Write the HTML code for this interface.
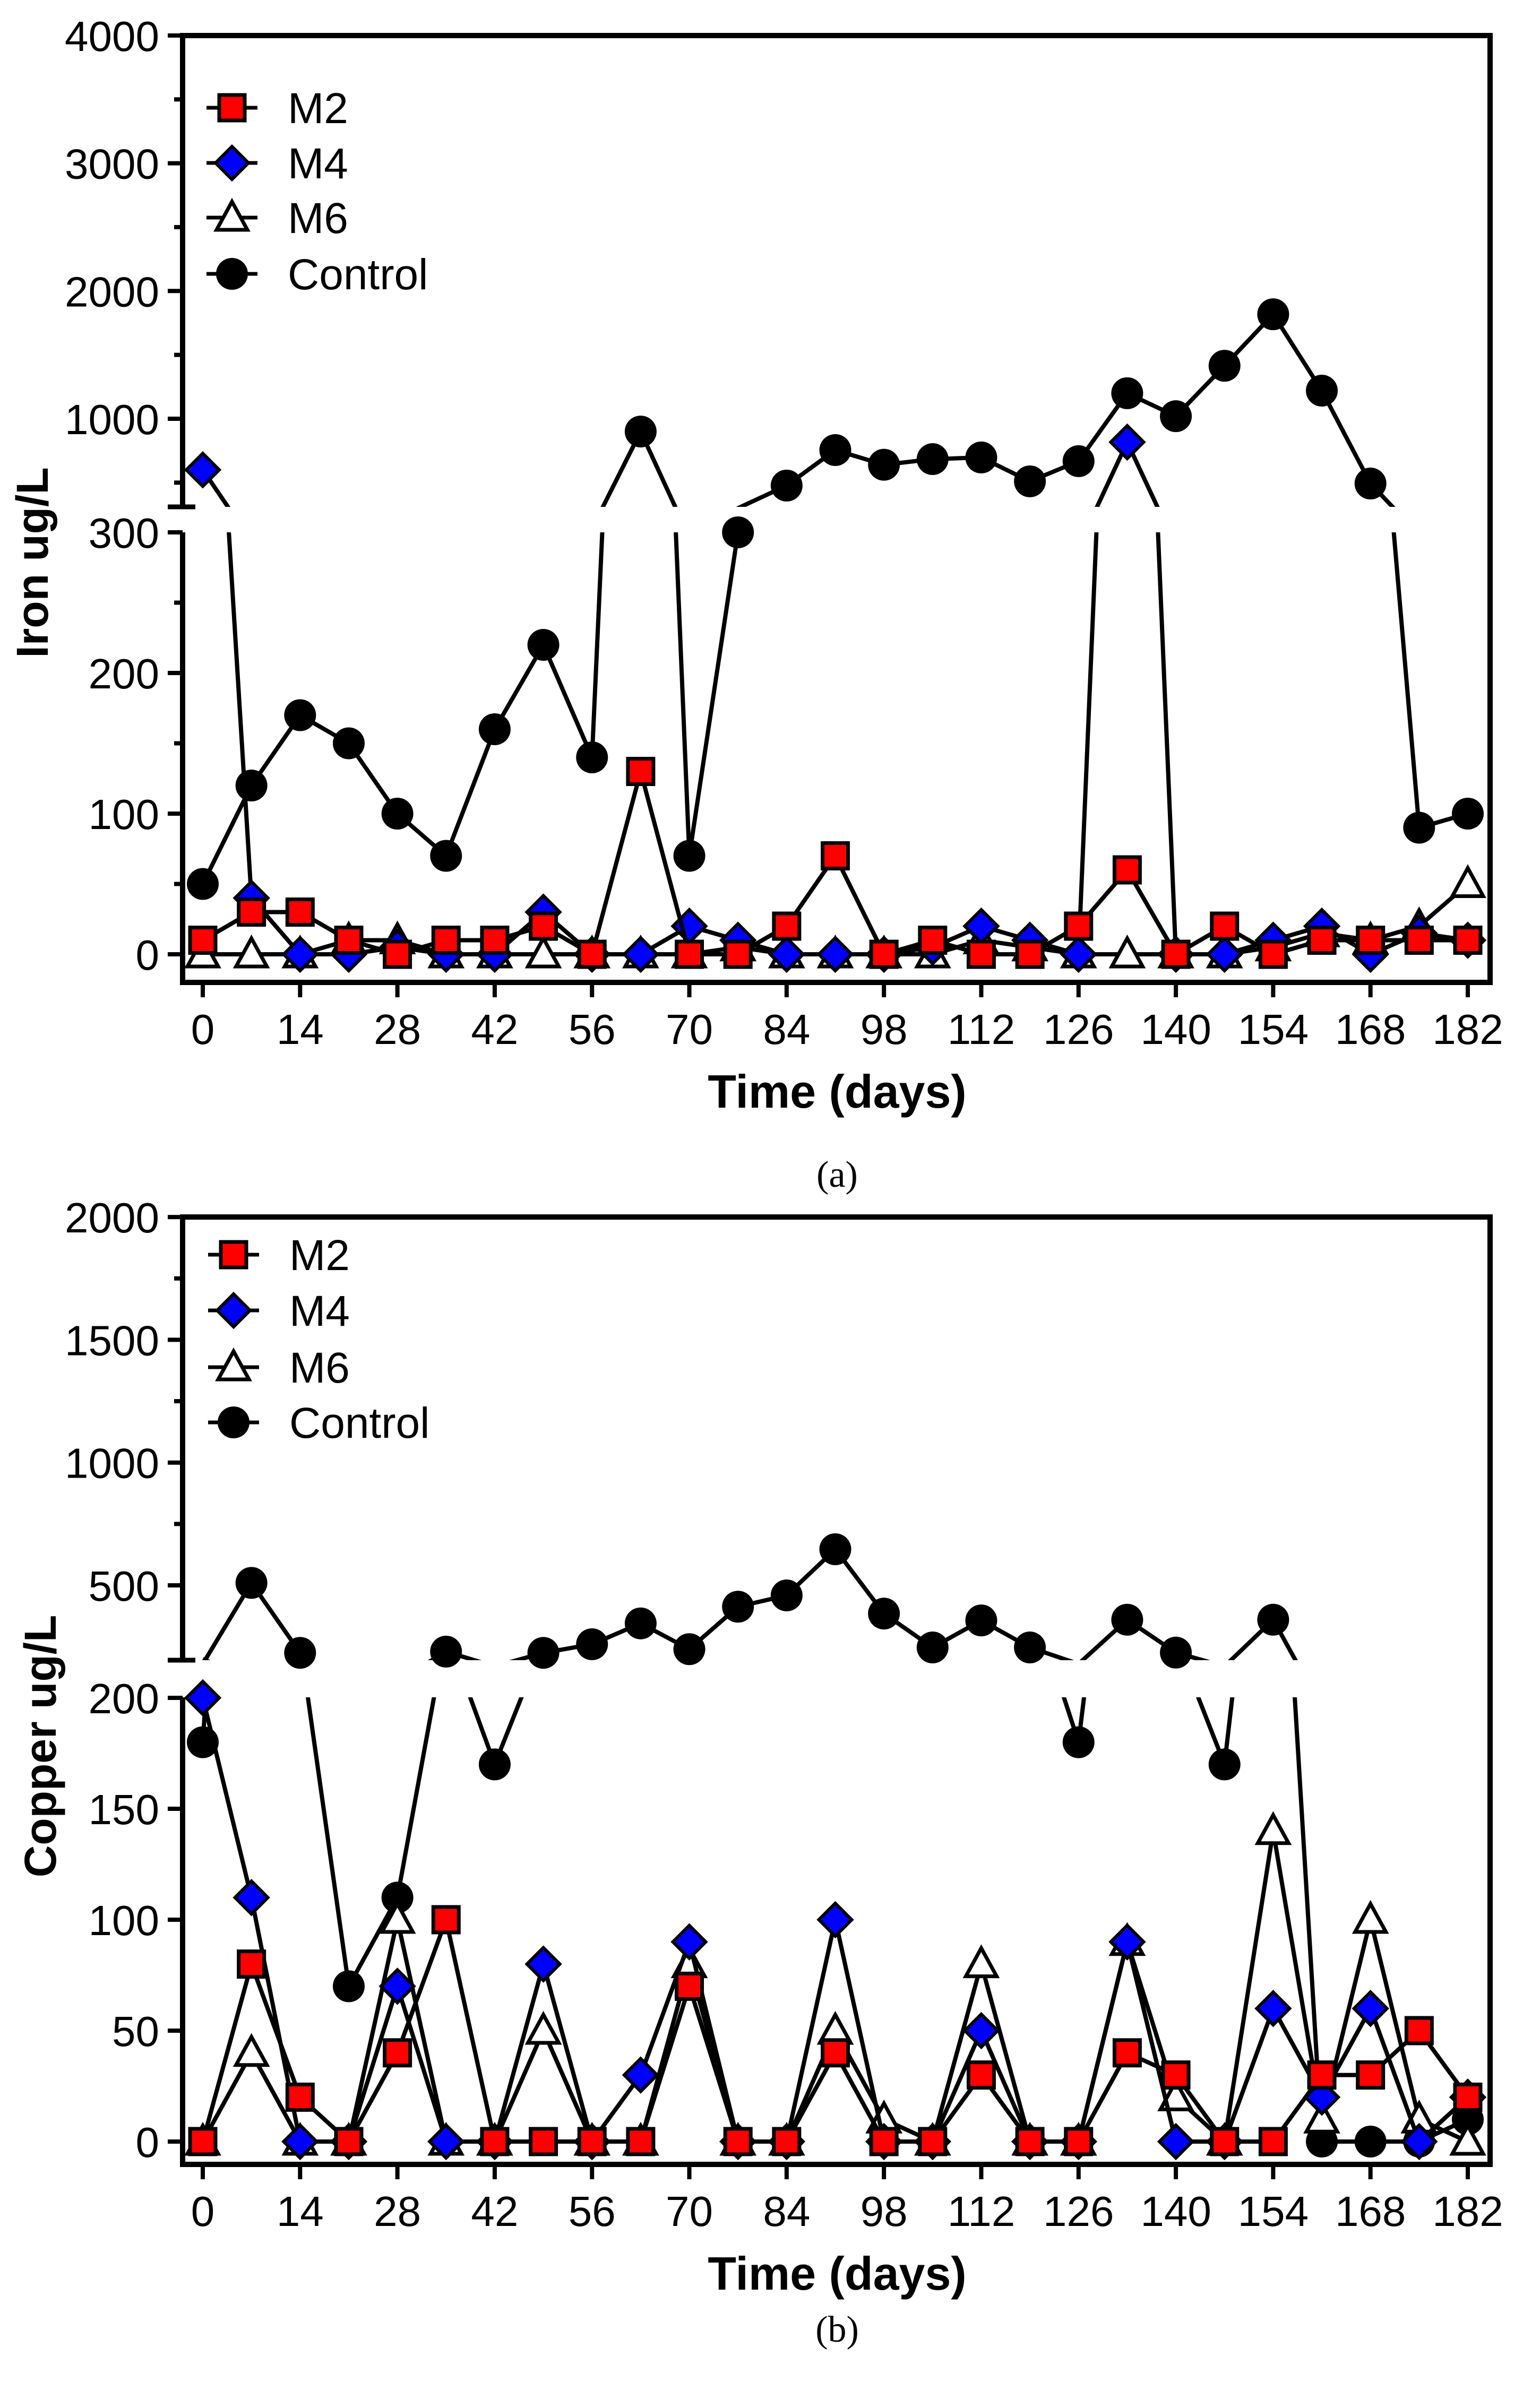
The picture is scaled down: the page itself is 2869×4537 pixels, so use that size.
<!DOCTYPE html>
<html><head><meta charset="utf-8"><style>
html,body{margin:0;padding:0;background:#fff;}
svg{display:block;}
text{font-family:"Liberation Sans",Arial,sans-serif;}
</style></head><body>
<svg id="fig" width="2869" height="4537" viewBox="0 0 2869 4537" xmlns="http://www.w3.org/2000/svg">
<rect width="2869" height="4537" fill="#fff"/>
<g id="panelA"></g>
<g id="panelB"></g>
</svg>
<script>
const days = [0,7,14,21,28,35,42,49,56,63,70,77,84,91,98,105,112,119,126,133,140,147,154,161,168,175,182];
const xTicks = [0,14,28,42,56,70,84,98,112,126,140,154,168,182];

const ironM2 = [10,30,30,10,0,10,10,20,0,130,0,0,20,70,0,10,0,0,20,60,0,20,0,10,10,10,10];
const ironM4 = [600,40,0,0,5,0,0,30,0,0,20,10,0,0,0,5,20,10,0,817,0,0,10,20,0,15,10];
const ironM6 = [0,0,0,10,10,0,0,0,0,0,0,5,0,0,0,0,10,5,0,0,0,0,5,15,10,20,50];
const ironControl = [50,120,170,150,100,70,160,220,140,900,70,300,477,755,640,684,697,510,668,1200,1020,1415,1818,1220,493,90,100];
const ironUpperTicks = [1000,2000,3000,4000];
const ironLowerTicks = [0,100,200,300];

const copperM2 = [0,80,20,0,40,100,0,0,0,0,70,0,0,40,0,0,30,0,0,40,30,0,0,30,30,50,20];
const copperM4 = [200,110,0,0,70,0,0,80,0,30,90,0,0,100,0,0,50,0,0,90,0,0,60,20,60,0,20];
const copperM6 = [0,40,0,0,100,0,0,50,0,0,80,0,0,50,10,0,80,0,0,90,20,0,140,10,100,10,0];
const copperControl = [180,510,225,70,110,230,170,225,260,345,240,413,459,647,385,247,357,247,180,360,226,170,360,0,0,0,10];
const copperUpperTicks = [500,1000,1500,2000];
const copperLowerTicks = [0,50,100,150,200];

const NS = "http://www.w3.org/2000/svg";
function mk(parent, tag, attrs){
  const e = document.createElementNS(NS, tag);
  for (const k in attrs) e.setAttribute(k, attrs[k]);
  parent.appendChild(e);
  return e;
}

function buildPanel(g, cfg){
  const L = 344, R = 2807;
  const xs = d => 382 + d*(2765-382)/182;
  const yU = v => cfg.uY0 - (v - cfg.uV0)*cfg.uK;
  const yL = v => cfg.lY0 - v*cfg.lK;
  const isUp = v => v > cfg.thr;
  const yOf = v => isUp(v) ? yU(v) : yL(v);

  const defs = mk(g,'defs',{});
  const cu = mk(defs,'clipPath',{id:cfg.id+'cu'});
  mk(cu,'rect',{x:L,y:cfg.top,width:R-L,height:cfg.breakU-cfg.top});
  const cl = mk(defs,'clipPath',{id:cfg.id+'cl'});
  mk(cl,'rect',{x:L,y:cfg.breakL,width:R-L,height:cfg.bottom-cfg.breakL});

  const ax = mk(g,'g',{stroke:'#000','stroke-width':10,fill:'none'});
  
  
  mk(ax,'line',{x1:L-5,y1:cfg.top,x2:R+5,y2:cfg.top});
  mk(ax,'line',{x1:R,y1:cfg.top,x2:R,y2:cfg.bottom+5});
  mk(ax,'line',{x1:L-5,y1:cfg.bottom,x2:R+5,y2:cfg.bottom});
  mk(ax,'line',{x1:L,y1:cfg.top,x2:L,y2:cfg.breakU});
  mk(ax,'line',{x1:L,y1:cfg.breakL,x2:L,y2:cfg.bottom});
  mk(ax,'line',{x1:L-28,y1:cfg.breakU,x2:L+24,y2:cfg.breakU,'stroke-width':9});
  const tk = mk(g,'g',{stroke:'#000','stroke-width':8});
  const lab = mk(g,'g',{'font-size':80,'text-anchor':'end',fill:'#000'});
  
  
  cfg.upTicks.forEach(v=>{
    const y = yU(v);
    mk(tk,'line',{x1:L-28,y1:y,x2:L,y2:y});
    const t = mk(lab,'text',{x:300,y:y+29}); t.textContent = v;
  });
  cfg.upMinor.forEach(v=>{ const y=yU(v); mk(tk,'line',{x1:L-16,y1:y,x2:L,y2:y}); });
  cfg.lowTicks.forEach(v=>{
    const y = yL(v);
    mk(tk,'line',{x1:L-28,y1:y,x2:L,y2:y});
    const t = mk(lab,'text',{x:300,y:y+29}); t.textContent = v;
  });
  cfg.lowMinor.forEach(v=>{ const y=yL(v); mk(tk,'line',{x1:L-16,y1:y,x2:L,y2:y}); });
  const xl = mk(g,'g',{'font-size':80,'text-anchor':'middle',fill:'#000'});
  
  
  xTicks.forEach(d=>{
    const x = xs(d);
    mk(tk,'line',{x1:x,y1:cfg.bottom,x2:x,y2:cfg.bottom+28});
    const t = mk(xl,'text',{x:x,y:cfg.bottom+116}); t.textContent = d;
  });
  const xt = mk(g,'text',{x:1577,y:cfg.bottom+236,'font-size':88,'font-weight':'bold','text-anchor':'middle'});
  xt.textContent = 'Time (days)';
  
  
  const yt = mk(g,'text',{x:0,y:0,'font-size':84,'font-weight':'bold','text-anchor':'middle',transform:`translate(${cfg.ytX},${cfg.ytY}) rotate(-90)`});
  yt.textContent = cfg.ytitle;
  
  
  const cap = mk(g,'text',{x:1577,y:cfg.capY,'text-anchor':'middle',style:'font-family:"Liberation Serif",serif;font-size:70px'});
  cap.textContent = cfg.cap;
  
  

  const series = [
    {name:'control', vals:cfg.control, m:'circle'},
    {name:'m6', vals:cfg.m6, m:'tri'},
    {name:'m4', vals:cfg.m4, m:'diamond'},
    {name:'m2', vals:cfg.m2, m:'square'}
  ];
  function marker(par, type, x, y){
    let e;
    if (type==='circle') e = mk(par,'circle',{cx:x,cy:y,r:30,fill:'#000'});
    else if (type==='square') e = mk(par,'rect',{x:x-24,y:y-24,width:48,height:48,fill:'#f00',stroke:'#000','stroke-width':7});
    else if (type==='diamond') e = mk(par,'polygon',{points:`${x},${y-31} ${x+31},${y} ${x},${y+31} ${x-31},${y}`,fill:'#00f',stroke:'#000','stroke-width':6});
    else e = mk(par,'polygon',{points:`${x},${y-30} ${x+29},${y+23} ${x-29},${y+23}`,fill:'#fff',stroke:'#000','stroke-width':7});
    return e;
  }
  series.forEach(s=>{
    const sg = mk(g,'g',{});
    
    
    ['u','l'].forEach(seg=>{
      const yf = seg==='u' ? yU : yL;
      const pts = days.map((d,i)=>xs(d)+','+yf(s.vals[i])).join(' ');
      mk(sg,'polyline',{points:pts,fill:'none',stroke:'#000','stroke-width':8,'stroke-linejoin':'round','clip-path':`url(#${cfg.id}c${seg})`});
    });
    days.forEach((d,i)=>{
      const m = marker(sg, s.m, xs(d), yOf(s.vals[i]));
      
      
    });
  });
  const lg = mk(g,'g',{});
  
  
  const ents = [['M2','square'],['M4','diamond'],['M6','tri'],['Control','circle']];
  ents.forEach((e,i)=>{
    const y = cfg.legY[i];
    const eg = mk(lg,'g',{});
    
    
    mk(eg,'line',{x1:cfg.legX-48,y1:y,x2:cfg.legX+48,y2:y,stroke:'#000','stroke-width':7});
    marker(eg, e[1], cfg.legX, y);
    const t = mk(eg,'text',{x:cfg.legX+105,y:y+29,'font-size':82}); t.textContent = e[0];
  });
}

buildPanel(document.getElementById('panelA'), {
  id:'iron', top:67, bottom:1851, breakU:955, breakL:1003,
  uY0:789, uV0:1000, uK:0.2407, lY0:1798, lK:2.65, thr:300,
  upTicks:ironUpperTicks, upMinor:[500,1500,2500,3500], lowTicks:ironLowerTicks, lowMinor:[50,150,250],
  m2:ironM2, m4:ironM4, m6:ironM6, control:ironControl,
  ytitle:'Iron ug/L', ytX:90, ytY:1060, cap:'(a)', capY:2236,
  legX:437, legY:[203,307,410,516]
});
buildPanel(document.getElementById('panelB'), {
  id:'copper', top:2293, bottom:4078, breakU:3128, breakL:3198,
  uY0:2987, uV0:500, uK:0.4626, lY0:4035, lK:4.18, thr:200,
  upTicks:copperUpperTicks, upMinor:[750,1250,1750], lowTicks:copperLowerTicks, lowMinor:[],
  m2:copperM2, m4:copperM4, m6:copperM6, control:copperControl,
  ytitle:'Copper ug/L', ytX:105, ytY:3290, cap:'(b)', capY:4412,
  legX:440, legY:[2364,2469,2576,2680]
});
</script>
</body></html>
